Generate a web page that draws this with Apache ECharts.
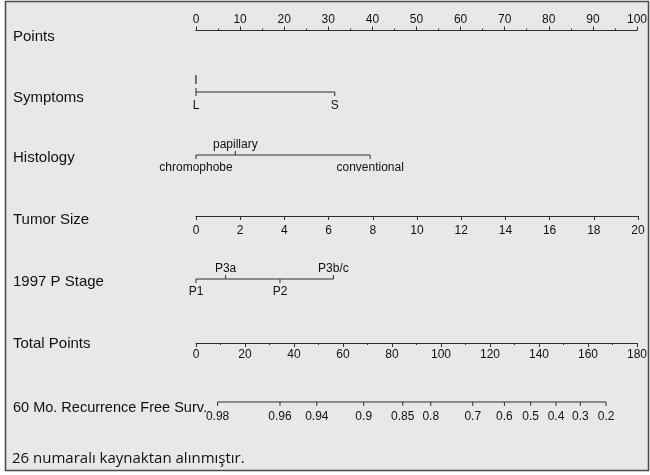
<!DOCTYPE html>
<html><head><meta charset="utf-8">
<script src="https://cdn.jsdelivr.net/npm/echarts@6/dist/echarts.min.js"></script>
<style>html,body{margin:0;padding:0;background:#fff}#c{width:650px;height:475px}</style>
</head><body><div id="c"></div>
<script>
// ---- data ----
const rowNames = ['Points', 'Symptoms', 'Histology', 'Tumor Size', '1997 P Stage', 'Total Points', '60 Mo. Recurrence Free Surv.'];
const pointsTicks = [0, 10, 20, 30, 40, 50, 60, 70, 80, 90, 100];
const symptomsLabels = ['I', 'L', 'S'];
const symptomsPoints = [0, 0, 31.4];
const histologyLabels = ['chromophobe', 'papillary', 'conventional'];
const histologyPoints = [0, 8.9, 39.4];
const tumorSizeTicks = [0, 2, 4, 6, 8, 10, 12, 14, 16, 18, 20];
const stageLabels = ['P1', 'P3a', 'P2', 'P3b/c'];
const stagePoints = [0, 6.7, 19.0, 31.1];
const totalPointsTicks = [0, 20, 40, 60, 80, 100, 120, 140, 160, 180];
const survivalLabels = ['0.98', '0.96', '0.94', '0.9', '0.85', '0.8', '0.7', '0.6', '0.5', '0.4', '0.3', '0.2'];
const survivalTotalPoints = [8.8, 34.2, 49.2, 68.3, 84.2, 95.6, 112.7, 125.6, 136.3, 146.6, 156.5, 167.0];
const caption = '26 numaralı kaynaktan alınmıştır.';

// ---- layout / style ----
const FONT = '"Liberation Sans", Arial, Helvetica, sans-serif';
const LINE = '#2e2e2e';
const TXT = '#111';
const LEFT = 196, RIGHT = 12;
const lineY = [29.5, 92, 155, 216, 279, 343, 402];
const nameY = [37, 98, 158, 220, 282, 344, 408];
const symptomsSides = ['top', 'bottom', 'bottom'];
const histologySides = ['bottom', 'top', 'bottom'];
const stageSides = ['bottom', 'top', 'bottom', 'top'];
const survivalSides = survivalLabels.map(() => 'bottom');

const grids = lineY.map((y, i) => ({ left: LEFT, right: RIGHT, top: i === 0 ? y : y - 1, height: 1, containLabel: false }));
const yAxes = lineY.map((y, i) => ({ gridIndex: i, type: 'value', min: 0, max: 1, show: false }));

function numAxis(i, ticks, pos, margin, minor) {
  const step = ticks[1] - ticks[0];
  return {
    gridIndex: i, type: 'value', position: pos,
    min: ticks[0], max: ticks[ticks.length - 1], interval: step,
    axisLine: { show: true, lineStyle: { color: LINE, width: 1 } },
    axisTick: { show: true, length: 4, lineStyle: { color: LINE, width: 1 } },
    minorTick: { show: !!minor, splitNumber: 2, length: 2, lineStyle: { color: LINE, width: 1 } },
    splitLine: { show: false },
    axisLabel: { show: true, margin: margin, color: TXT, fontSize: 12, fontFamily: FONT, showMinLabel: true, showMaxLabel: true }
  };
}
function hiddenAxis(i, max) {
  return { gridIndex: i, type: 'value', min: 0, max: max, show: false, splitLine: { show: false } };
}

const xAxes = [
  numAxis(0, pointsTicks, 'top', 4, true),
  hiddenAxis(1, pointsTicks[pointsTicks.length - 1]),
  hiddenAxis(2, pointsTicks[pointsTicks.length - 1]),
  numAxis(3, tumorSizeTicks, 'bottom', 9, false),
  hiddenAxis(4, pointsTicks[pointsTicks.length - 1]),
  numAxis(5, totalPointsTicks, 'bottom', 6, true),
  hiddenAxis(6, totalPointsTicks[totalPointsTicks.length - 1])
];

function rowSeries(idx, vals, labels, sides, upOff, downOff) {
  return {
    type: 'custom', xAxisIndex: idx, yAxisIndex: idx, data: [[0, 0]], silent: true, clip: false,
    renderItem: function (params, api) {
      const xs = vals.map(v => api.coord([v, 0])[0]);
      const y = api.coord([0, 0])[1];
      const children = [{
        type: 'line', shape: { x1: Math.min(...xs), y1: y, x2: Math.max(...xs), y2: y },
        style: { stroke: LINE, lineWidth: 1 }
      }];
      xs.forEach((x, k) => {
        const d = sides[k] === 'top' ? -1 : 1;
        children.push({ type: 'line', shape: { x1: x, y1: y, x2: x, y2: y + d * 4 }, style: { stroke: LINE, lineWidth: 1 } });
        children.push({
          type: 'text', x: x, y: y + (d < 0 ? -upOff : downOff),
          style: { text: labels[k], align: 'center', verticalAlign: 'middle', textAlign: 'center', textVerticalAlign: 'middle',
                   fontSize: 12, fontFamily: FONT, fill: TXT }
        });
      });
      return { type: 'group', children: children };
    }
  };
}

const series = [
  rowSeries(1, symptomsPoints, symptomsLabels, symptomsSides, 11, 14),
  rowSeries(2, histologyPoints, histologyLabels, histologySides, 10, 13),
  rowSeries(4, stagePoints, stageLabels, stageSides, 10, 13),
  rowSeries(6, survivalTotalPoints, survivalLabels, survivalSides, 10, 15)
];

const graphics = [
  { type: 'rect', z: -10, shape: { x: 5.5, y: 1.5, width: 643, height: 469 },
    style: { fill: '#e7e8ea', stroke: '#4a4a4a', lineWidth: 1.5 } }
].concat(rowNames.map((n, i) => ({
  type: 'text', x: 13, y: nameY[i],
  style: { text: n, fontSize: i === 6 ? 14.5 : 15, fontFamily: FONT, fill: TXT, verticalAlign: 'middle', textVerticalAlign: 'middle' }
}))).concat([{
  type: 'text', x: 12, y: 459,
  style: { text: caption, fontSize: 15, fontFamily: '"Open Sans", sans-serif', fill: '#111', verticalAlign: 'middle', textVerticalAlign: 'middle' }
}]);

const chart = echarts.init(document.getElementById('c'), null, { renderer: 'canvas' });
chart.setOption({
  backgroundColor: '#ffffff',
  animation: false,
  grid: grids,
  xAxis: xAxes,
  yAxis: yAxes,
  series: series,
  graphic: { elements: graphics }
});
</script></body></html>
